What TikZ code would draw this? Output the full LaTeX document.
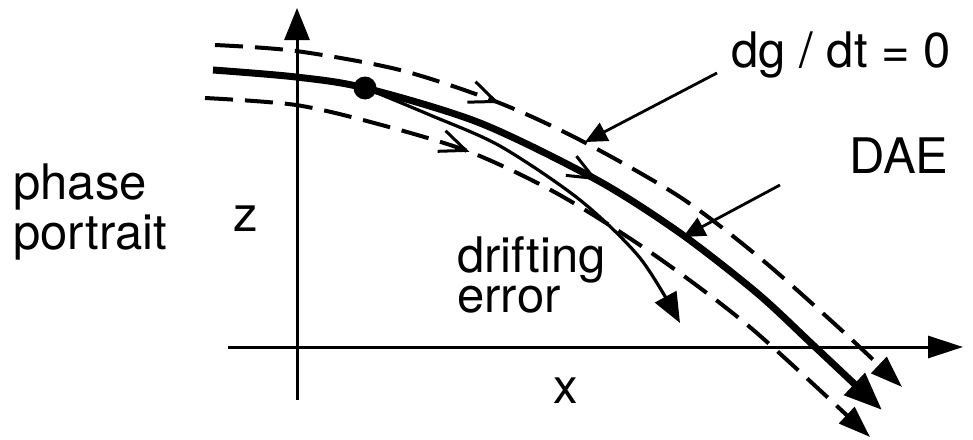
\documentclass[tikz,border=0pt]{standalone}
\usepackage{fontspec}
\setmainfont{TeX Gyre Heros}
\usetikzlibrary{arrows.meta,decorations.markings}
\tikzset{
  % Labels
  lbl/.style={inner sep=0pt,font=\fontsize{24.5}{25}\selectfont},
  % Axes
  ax/.style={line width=1.5pt},
  % Curves
  DAEc/.style={line width=3.5pt,-{Triangle[length=19pt,width=14.5pt]}},
  dsh/.style={line width=2pt,dash pattern=on 14pt off 6pt,
              -{Triangle[length=16pt,width=11pt]}},
  drift/.style={line width=1.6pt,-{Triangle[length=15pt,width=12pt]}},
  % Pointer
  ptr/.style={line width=1.4pt,-{Triangle[length=11pt,width=10pt]}},
  % Arrow in the middle of a curve
  midarr/.style={decoration={markings,
      mark=at position #1 with {\arrow[line width=1.5pt]{Straight Barb[length=13pt,width=11pt]}}},
      postaction={decorate}}
}

\begin{document}
\begin{tikzpicture}[x=0.5pt,y=-0.5pt]
  \useasboundingbox (0,0) rectangle (973,439);
  % axes
  \coordinate (xl) at (228,347);
  \coordinate (xr) at (963,347);
  \coordinate (yb) at (297,400);
  \coordinate (yt) at (297,8);
  \draw[ax,-{Triangle[length=17.5pt,width=11pt]}] (xl) -- (xr);
  \draw[ax,-{Triangle[length=16pt,width=12.5pt]}] (yb) -- (yt);
  % labels
  \node[lbl,anchor=north west,align=left] (pp) at (13,163) {phase\\portrait};
  \node[lbl] (zlab) at (246,219) {z};
  \node[lbl] (xlab) at (566,391) {x};
  \node[lbl,font=\fontsize{24.5}{20}\selectfont,anchor=north west,align=left]
       (drf) at (457,236) {drifting\\error};
  \node[lbl] (dae) at (899,156) {DAE};
  \node[lbl,anchor=base west] (dg) at (731,67) {dg / dt = 0};
  % starting point
  \node[circle,fill,inner sep=0pt,minimum size=11.5pt] (pt) at (365,88) {};
  % curves
  \draw[dsh,midarr=0.37] plot[smooth] coordinates
    {(215,45) (296,51) (400,70) (497,102) (580,140) (680,197) (760,258) (838,327) (902,387)};
  \draw[dsh,midarr=0.354] plot[smooth] coordinates
    {(205,98) (296,105) (378,124) (470,152) (558,194) (653,254) (751,328) (870,437)};
  \draw[DAEc,midarr=0.524] plot[smooth] coordinates
    {(213,70) (296,77) (pt.center) (480,123) (597,180) (680,233) (757,293) (813,345) (882,410)};
  \draw[drift] plot[smooth] coordinates
    {(pt.center) (430,115) (500,146) (580,200) (640,258) (680,323)};
  % pointers
  \coordinate (dgtail) at (717,73);
  \coordinate (dghead) at (585,142);
  \coordinate (daetail) at (780,185);
  \coordinate (daehead) at (683,237);
  \draw[ptr] (dgtail) -- (dghead);
  \draw[ptr] (daetail) -- (daehead);
\end{tikzpicture}
\end{document}
